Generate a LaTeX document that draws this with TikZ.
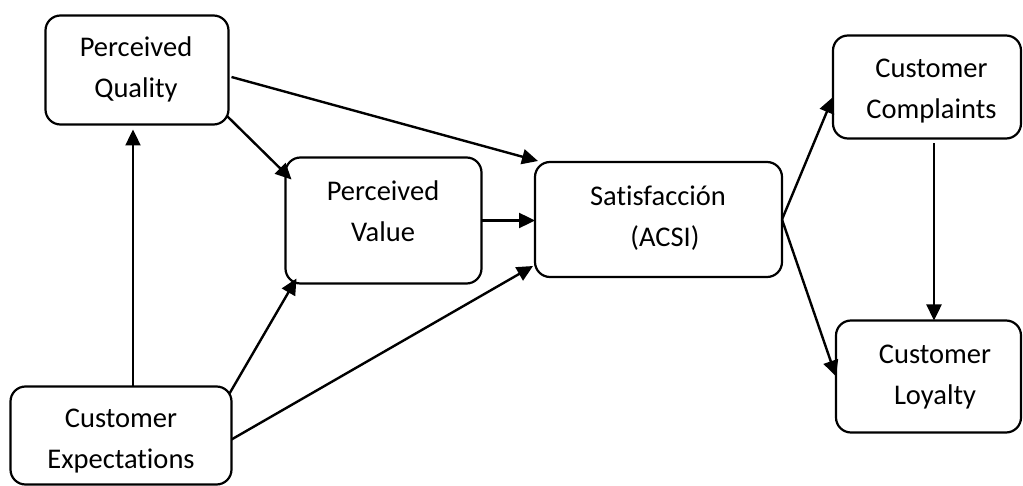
\documentclass[tikz,border=0pt]{standalone}
\usepackage{fontspec}
\setmainfont{Carlito}[Ligatures=NoCommon]
\usetikzlibrary{arrows.meta,calc}
\begin{document}
\begin{tikzpicture}[x=1pt,y=-1pt,
  box/.style={draw, line width=2.2pt, rounded corners=15pt, inner sep=0pt, outer sep=0pt},
  lbl/.style={align=center, inner sep=0pt, font=\fontsize{28.5}{41}\selectfont},
  conn/.style={line width=2.4pt, -{Triangle[length=16pt,width=15pt]}}]
\useasboundingbox (0,0) rectangle (1023,486);

% boxes
\node[box, minimum width=183pt, minimum height=109pt] (pq)  at (137,70)      {};
\node[box, minimum width=196pt, minimum height=126pt] (pv)  at (383.5,220.5) {};
\node[box, minimum width=247pt, minimum height=115pt] (sat) at (658.5,219.5) {};
\node[box, minimum width=188pt, minimum height=103pt] (cc)  at (927,87)      {};
\node[box, minimum width=185pt, minimum height=112pt] (cl)  at (928.5,376.5) {};
\node[box, minimum width=221pt, minimum height=98pt]  (ce)  at (121,435.5)   {};

% labels
\node[lbl] (pqtext)  at (136,69)    {\strut Perceived\\\strut Quality};
\node[lbl] (pvtext)  at (383,212.5) {\strut Perceived\\\strut Value};
\node[lbl] (sattext) at (658,217.5) {\strut Satisfacción\\\strut\hspace*{14pt}(ACSI)};
\node[lbl] (cctext)  at (931.5,90)  {\strut Customer\\\strut Complaints};
\node[lbl] (cltext)  at (935,376)   {\strut Customer\\\strut Loyalty};
\node[lbl] (cetext)  at (121,440)   {\strut Customer\\\strut Expectations};

% connectors
\draw[conn] ($(ce.north)+(12,0)$) -- ($(pq.south)+(-4,5)$);
\draw[conn] ($(pq.east)+(3,7)$) -- ($(sat.north west)+(3,-1)$);
\draw[conn] ($(pq.south east)+(-1,-8)$) -- ($(pv.north west)+(6,22)$);
\draw[conn] (pv.east) -- (pv.east -| sat.west);
\draw[conn] ($(ce.north east)+(-2,7)$) -- ($(pv.south west)+(11,-5)$);
\draw[conn] ($(ce.east)+(0,4)$) -- ($(sat.south west)+(-2,-11)$);
\draw[conn] (sat.east) -- ($(cc.west)+(0,10)$);
\draw[conn] (sat.east) -- (cl.west);
\draw[conn] ($(cc.south)+(7,5)$) -- ($(cl.north)+(5.5,0)$);
\end{tikzpicture}
\end{document}
